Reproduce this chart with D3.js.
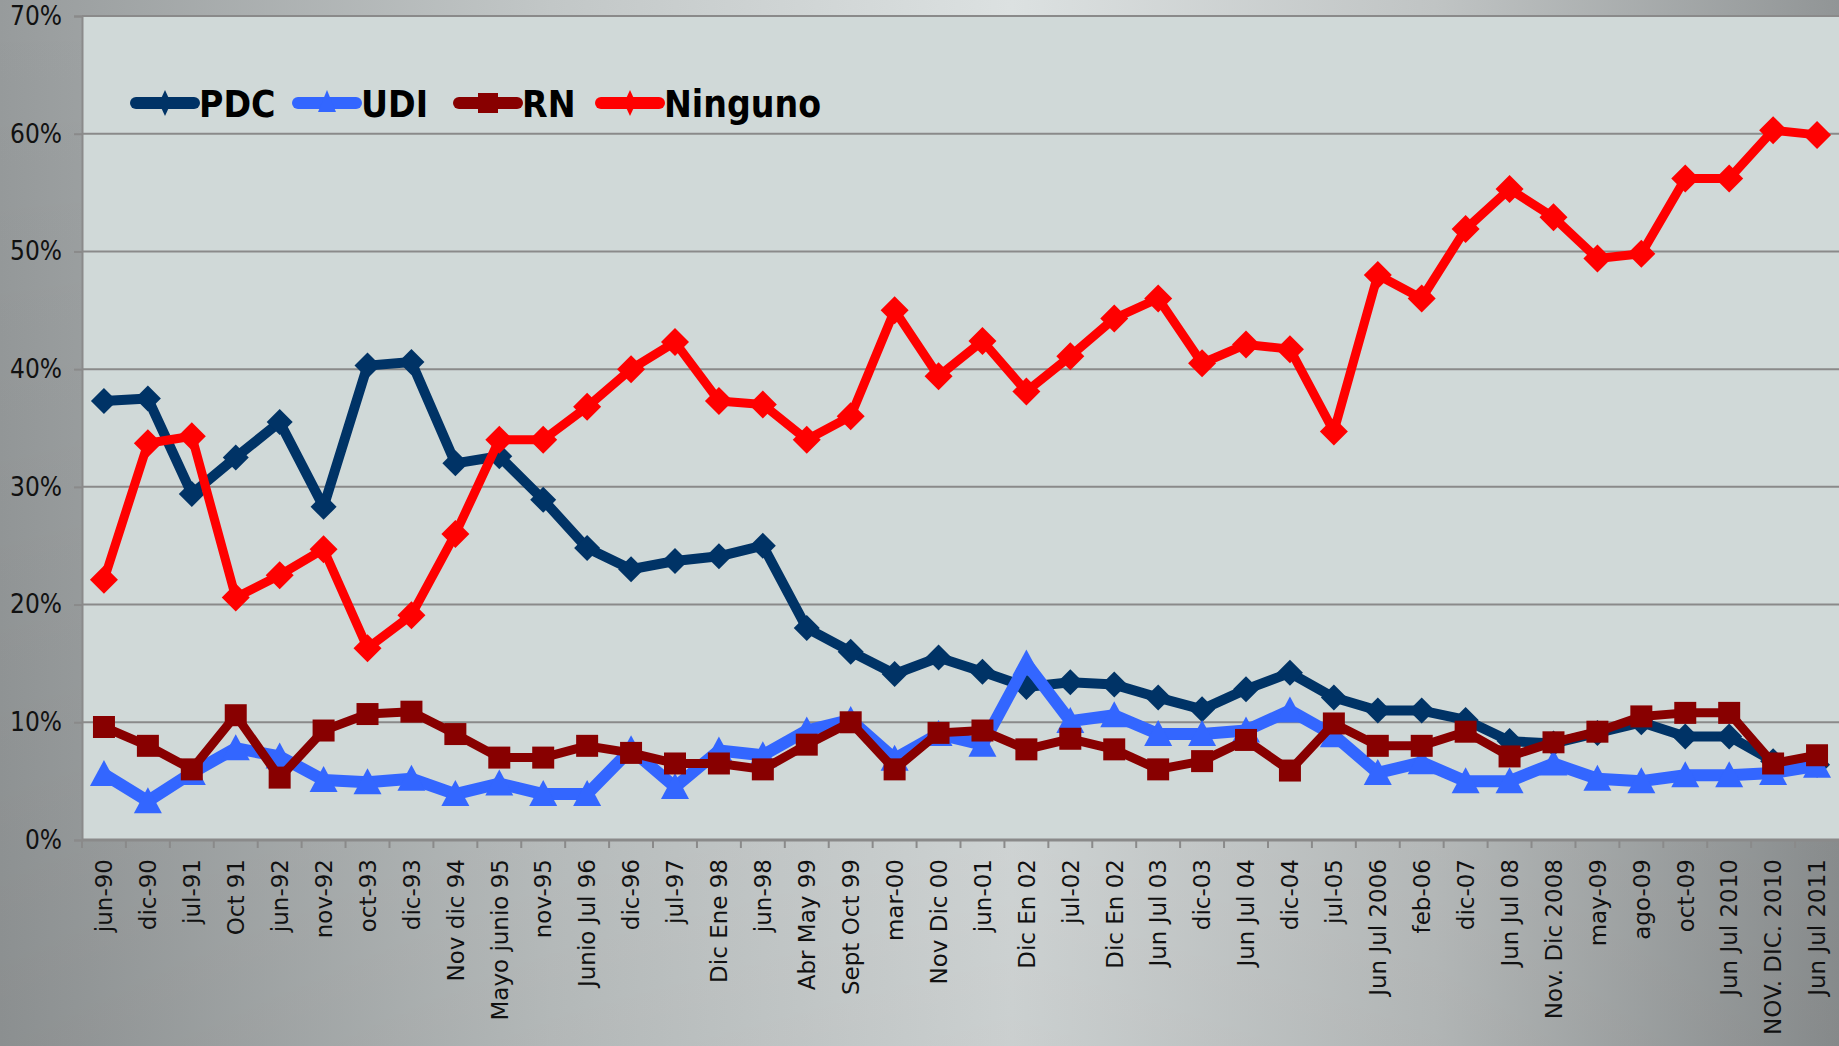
<!DOCTYPE html>
<html>
<head>
<meta charset="utf-8">
<script src="https://cdn.jsdelivr.net/npm/d3@7"></script>
<style>
  body { margin: 0; padding: 0; overflow: hidden; }
  #chart svg { display: block; }
</style>
</head>
<body>
<div id="chart"></div>
<script>
// poll dates (x categories) - note "Dic En 02" appears twice
const categories = ["jun-90","dic-90","jul-91","Oct 91","jun-92","nov-92","oct-93","dic-93","Nov dic 94","Mayo junio 95",
  "nov-95","Junio Jul 96","dic-96","jul-97","Dic Ene 98","jun-98","Abr May 99","Sept Oct 99","mar-00","Nov Dic 00",
  "jun-01","Dic En 02","jul-02","Dic En 02","Jun Jul 03","dic-03","Jun Jul 04","dic-04","jul-05","Jun Jul 2006",
  "feb-06","dic-07","Jun Jul 08","Nov. Dic 2008","may-09","ago-09","oct-09","Jun Jul 2010","NOV. DIC. 2010","Jun Jul 2011"];

// values in %
const pdc = [37.3,37.5,29.4,32.5,35.5,28.3,40.3,40.6,32.0,32.6,28.9,24.8,23.0,23.7,24.1,25.0,18.0,16.0,14.1,15.5,
  14.3,13.0,13.4,13.2,12.1,11.1,12.8,14.2,12.1,11.0,11.0,10.2,8.4,8.2,9.1,10.0,8.8,8.8,6.7,6.4];
const udi = [5.6,3.3,5.7,7.8,7.1,5.1,4.9,5.2,3.9,4.8,3.9,3.9,7.7,4.5,7.6,7.2,9.3,10.2,6.9,9.0,
  8.1,15.0,10.1,10.6,9.0,9.0,9.3,11.0,8.9,5.7,6.6,5.0,5.0,6.5,5.2,5.0,5.5,5.5,5.7,6.3];
const rn = [9.6,8.0,6.0,10.6,5.3,9.3,10.7,10.9,9.0,7.0,7.0,8.0,7.4,6.5,6.5,6.0,8.1,10.0,6.0,9.1,
  9.3,7.7,8.6,7.7,6.0,6.7,8.5,5.9,9.9,8.0,8.0,9.2,7.1,8.3,9.2,10.5,10.8,10.8,6.5,7.2];
const ninguno = [22.1,33.7,34.3,20.6,22.5,24.7,16.3,19.1,26.0,34.0,34.0,36.8,40.0,42.3,37.3,37.0,34.0,36.0,45.0,39.4,
  42.4,38.1,41.1,44.3,46.0,40.5,42.1,41.7,34.7,48.0,46.0,51.9,55.3,52.9,49.4,49.8,56.2,56.2,60.3,59.9];

const yTicks = [0,10,20,30,40,50,60,70];

const seriesList = [
  {name: "PDC", values: pdc, color: "#003366", width: 10, marker: "diamond"},
  {name: "UDI", values: udi, color: "#3366ff", width: 12, marker: "triangle"},
  {name: "RN", values: rn, color: "#880000", width: 9, marker: "square"},
  {name: "Ninguno", values: ninguno, color: "#ff0000", width: 9, marker: "bigdiamond"}
];

const W = 1839, H = 1046;
const margin = {top: 16, right: 0, bottom: 206, left: 82};

const svg = d3.select("#chart").append("svg")
  .attr("width", W)
  .attr("height", H);

// background: horizontal grey gradient, a bit darker toward the bottom
let defs = svg.append("defs");
let grad = defs.append("linearGradient")
  .attr("id", "bg")
  .attr("x1", "0%").attr("x2", "100%").attr("y1", "0%").attr("y2", "0%");
grad.append("stop").attr("offset", "0%").attr("stop-color", "#979b9c");
grad.append("stop").attr("offset", "30%").attr("stop-color", "#c2c7c7");
grad.append("stop").attr("offset", "55%").attr("stop-color", "#dce1e1");
grad.append("stop").attr("offset", "78%").attr("stop-color", "#c0c4c4");
grad.append("stop").attr("offset", "100%").attr("stop-color", "#919596");
let shade = defs.append("linearGradient")
  .attr("id", "shade")
  .attr("x1", "0%").attr("x2", "0%").attr("y1", "0%").attr("y2", "100%");
shade.append("stop").attr("offset", "0%").attr("stop-color", "#000").attr("stop-opacity", 0);
shade.append("stop").attr("offset", "100%").attr("stop-color", "#000").attr("stop-opacity", 0.08);

svg.append("rect").attr("width", W).attr("height", H).attr("fill", "url(#bg)");
svg.append("rect").attr("width", W).attr("height", H).attr("fill", "url(#shade)");

const x = d3.scaleBand()
  .domain(d3.range(categories.length))
  .range([margin.left, W - margin.right]);

const y = d3.scaleLinear()
  .domain([0, 70])
  .range([H - margin.bottom, margin.top]);

// plot area
svg.append("rect")
  .attr("x", margin.left)
  .attr("y", y(70))
  .attr("width", W - margin.right - margin.left)
  .attr("height", y(0) - y(70))
  .attr("fill", "#d0d9d8");

// gridlines
svg.append("g").selectAll("line").data(yTicks).enter()
  .append("line")
  .attr("x1", margin.left)
  .attr("x2", W - margin.right)
  .attr("y1", d => y(d))
  .attr("y2", d => y(d))
  .style("stroke", "#8a8a8a")
  .style("stroke-width", 2);

// y axis
let yAxis = d3.axisLeft(y)
  .tickValues(yTicks)
  .tickFormat(d => d + "%")
  .tickSize(8)
  .tickPadding(12);
let yG = svg.append("g")
  .attr("transform", "translate(" + margin.left + ",0)")
  .call(yAxis);
yG.select(".domain").style("stroke", "#8a8a8a").style("stroke-width", 2);
yG.selectAll("line").style("stroke", "#8a8a8a").style("stroke-width", 2);
yG.selectAll("text")
  .style("font-family", "'Liberation Sans Narrow', 'DejaVu Sans Condensed', sans-serif")
  .style("font-size", "26px")
  .style("fill", "#111");

// x axis: labels at band centers, ticks at band edges
let xAxis = d3.axisBottom(x)
  .tickFormat(i => categories[i])
  .tickSize(0);
let xG = svg.append("g")
  .attr("transform", "translate(0," + y(0) + ")")
  .call(xAxis);
xG.select(".domain").remove();
xG.selectAll("text")
  .attr("transform", "translate(0,19) rotate(-90)")
  .attr("x", 0)
  .attr("y", 0)
  .attr("dy", "0.36em")
  .style("text-anchor", "end")
  .style("font-family", "'DejaVu Sans', Verdana, sans-serif")
  .style("font-size", "23px")
  .style("fill", "#111");

let edges = d3.range(categories.length + 1).map(i => margin.left + i * x.bandwidth());
svg.append("g").selectAll("line").data(edges).enter()
  .append("line")
  .attr("x1", d => d).attr("x2", d => d)
  .attr("y1", y(0)).attr("y2", y(0) + 8)
  .style("stroke", "#8a8a8a")
  .style("stroke-width", 2);
svg.append("line")
  .attr("x1", margin.left).attr("x2", W)
  .attr("y1", y(0)).attr("y2", y(0))
  .style("stroke", "#8a8a8a")
  .style("stroke-width", 3);

// marker shapes
function markerPath(type) {
  if (type == "diamond") return "M0,-13L13,0L0,13L-13,0Z";
  if (type == "bigdiamond") return "M0,-14L14,0L0,14L-14,0Z";
  if (type == "square") return "M-11,-11H11V11H-11Z";
  if (type == "triangle") return "M0,-14L14,12H-14Z";
}

let line = d3.line()
  .x((d, i) => x(i) + x.bandwidth() / 2)
  .y(d => y(d));

seriesList.forEach(s => {
  let g = svg.append("g").attr("class", "series");
  g.append("path")
    .datum(s.values)
    .attr("d", line)
    .style("fill", "none")
    .style("stroke", s.color)
    .style("stroke-width", s.width)
    .style("stroke-linejoin", "round");
  g.selectAll("path.mk").data(s.values).enter()
    .append("path")
    .attr("class", "mk")
    .attr("transform", (d, i) => "translate(" + (x(i) + x.bandwidth() / 2) + "," + y(d) + ")")
    .attr("d", markerPath(s.marker))
    .style("fill", s.color);
});

// legend
let legendPos = [136, 298, 459, 601];
let legend = svg.append("g").attr("class", "legend");
seriesList.forEach((s, i) => {
  let lx = legendPos[i];
  let item = legend.append("g").attr("transform", "translate(" + lx + ",103)");
  item.append("line")
    .attr("x1", 0).attr("x2", 58)
    .attr("y1", 0).attr("y2", 0)
    .style("stroke", s.color)
    .style("stroke-width", 12)
    .style("stroke-linecap", "round");
  item.append("path")
    .attr("transform", "translate(29,0)")
    .attr("d", s.marker == "square" ? "M-10,-10H10V10H-10Z" : (s.marker == "triangle" ? "M0,-13L9,9H-9Z" : "M0,-13L6,0L0,13L-6,0Z"))
    .style("fill", s.color);
  item.append("text")
    .attr("x", 63)
    .attr("y", 14)
    .style("font-family", "'DejaVu Sans', sans-serif")
    .style("font-stretch", "condensed")
    .style("font-weight", "bold")
    .style("font-size", "37px")
    .style("fill", "#000")
    .text(s.name);
});
</script>
</body>
</html>
